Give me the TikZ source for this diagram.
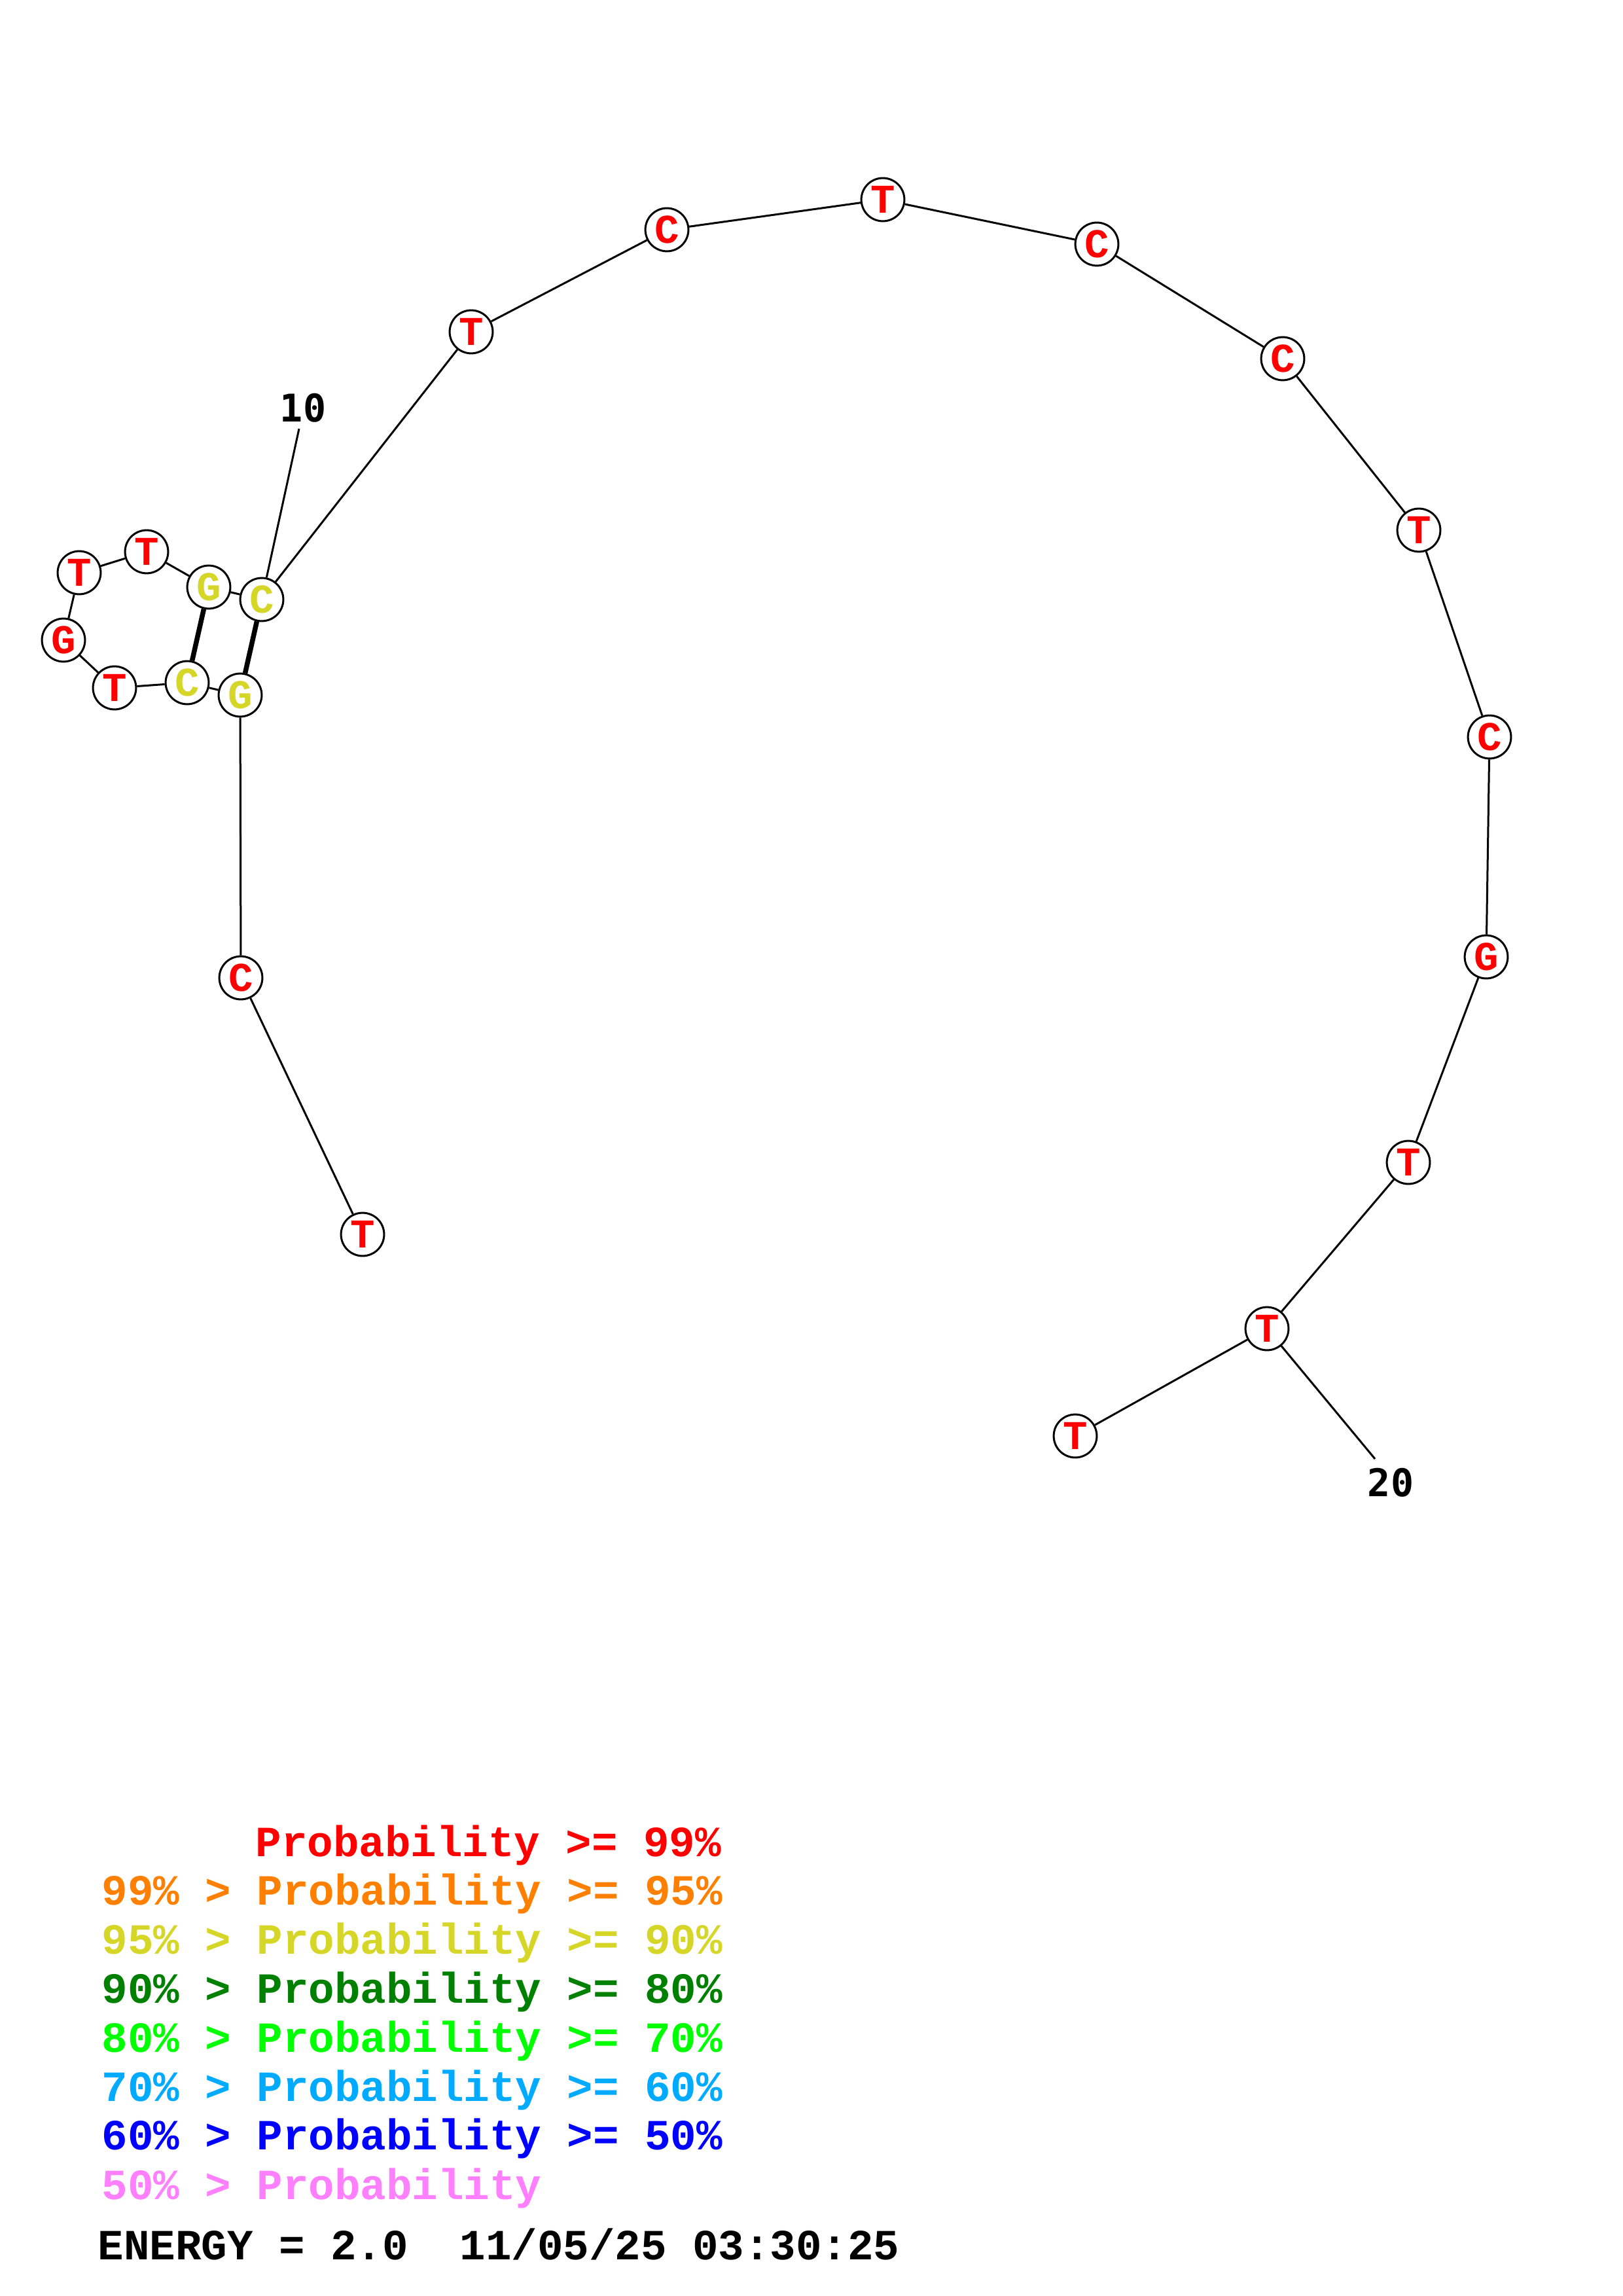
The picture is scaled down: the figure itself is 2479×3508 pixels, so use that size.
\documentclass[tikz,border=0pt]{standalone}
\usepackage{fontspec}
\setmonofont{Liberation Mono}
\newfontfamily\numfont{DejaVu Sans Mono}
\usetikzlibrary{positioning}
\definecolor{prob99}{RGB}{255,0,0}
\definecolor{prob95}{RGB}{255,128,0}
\definecolor{prob90}{RGB}{214,214,41}
\definecolor{prob80}{RGB}{0,128,0}
\definecolor{prob70}{RGB}{0,255,0}
\definecolor{prob60}{RGB}{0,170,255}
\definecolor{prob50}{RGB}{0,0,255}
\definecolor{problow}{RGB}{255,128,255}

\begin{document}
\begin{tikzpicture}[x=0.24pt,y=-0.24pt]
  %--------------------------------------------
  % Styles
  %--------------------------------------------
  \tikzset{
    base/.style={circle, draw=black, line width=0.72pt, fill=white,
      minimum size=15.8pt, inner sep=0pt,
      font=\ttfamily\bfseries\fontsize{15}{15}\selectfont},
    backbone/.style={line width=0.72pt, black},
    pairbond/.style={line width=1.8pt, black},
    numlabel/.style={font=\numfont\bfseries\fontsize{14}{14}\selectfont, inner sep=0pt},
    legend/.style={anchor=base west, inner sep=0pt,
      font=\ttfamily\bfseries\fontsize{15.8}{15.8}\selectfont}
  }

  % page frame (pixels of the 2479 x 3508 sheet)
  \useasboundingbox (0,0) rectangle (2479,3508);

  %--------------------------------------------
  % Bases: number / letter / x / y / colour
  %--------------------------------------------
  \foreach \n/\b/\x/\y/\c in {
      1/T/554/1886/prob99, 2/C/368/1494/prob99, 3/G/367/1062/prob90,
      4/C/286/1043/prob90, 5/T/175/1051/prob99, 6/G/97/978/prob99,
      7/T/121/875/prob99, 8/T/224/843/prob99, 9/G/319/897/prob90,
      10/C/400/916/prob90, 11/T/720/507/prob99, 12/C/1019/351/prob99,
      13/T/1349/305/prob99, 14/C/1676/373/prob99, 15/C/1960/548/prob99,
      16/T/2168/810/prob99, 17/C/2276/1126/prob99, 18/G/2271/1462/prob99,
      19/T/2152/1776/prob99, 20/T/1936/2030/prob99, 21/T/1643/2194/prob99}{
    \node[base, text=\c] (n\n) at (\x,\y) {\b};
  }

  % backbone between neighbours
  \foreach \a [count=\b from 2] in {1,...,20}{
    \draw[backbone] (n\a) -- (n\b);
  }

  % base pairs of the stem
  \draw[pairbond] (n3) -- (n10);
  \draw[pairbond] (n4) -- (n9);

  %--------------------------------------------
  % Position labels
  %--------------------------------------------
  \node[numlabel] (lab10) at (463,623) {10};
  \coordinate (tip10) at (457,655);
  \draw[backbone] (tip10) -- (n10);

  \node[numlabel] (lab20) at (2125,2265) {20};
  \coordinate (tip20) at (2101,2229);
  \draw[backbone] (tip20) -- (n20);

  %--------------------------------------------
  % Legend
  %--------------------------------------------
  \node[legend, text=prob99] (leg99) at (390,2836) {Probability >= 99\%};
  \foreach \hi/\lo/\col [count=\r] in {99/95/prob95, 95/90/prob90, 90/80/prob80,
      80/70/prob70, 70/60/prob60, 60/50/prob50}{
    \node[legend, text=\col] (leg\lo) at (155,{2836+\r*74.8}) {\hi\% > Probability >= \lo\%};
  }
  \node[legend, text=problow] (leglow) at (155,3360) {50\% > Probability};

  \node[legend, text=black] (energy) at (149,3452) {ENERGY = 2.0~~11/05/25 03:30:25};
\end{tikzpicture}
\end{document}
